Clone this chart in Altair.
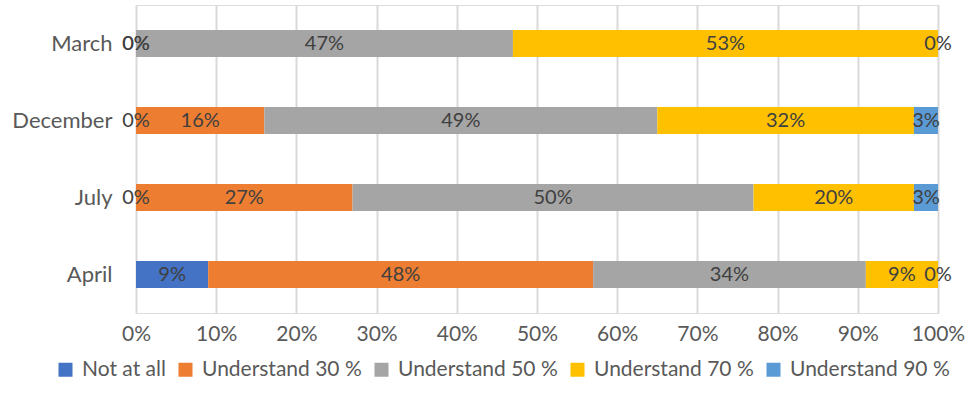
import altair as alt
import pandas as pd

months = ["March", "December", "July", "April"]
series = ["Not at all", "Understand 30 %", "Understand 50 %", "Understand 70 %", "Understand 90 %"]
colors = ["#4472C4", "#ED7D31", "#A5A5A5", "#FFC000", "#5B9BD5"]
not_at_all = [0, 0, 0, 9]
u30 = [0, 16, 27, 48]
u50 = [47, 49, 50, 34]
u70 = [53, 32, 20, 9]
u90 = [0, 3, 3, 0]

rows = []
for i, m in enumerate(months):
    start = 0.0
    for s, vals in zip(series, [not_at_all, u30, u50, u70, u90]):
        v = vals[i] / 100.0
        rows.append({"month": m, "series": s, "order": series.index(s),
                     "start": start, "end": start + v, "mid": start + v / 2,
                     "label": f"{vals[i]}%"})
        start += v
df = pd.DataFrame(rows)

FONT = "Lato"
base = alt.Chart(df)
y = alt.Y("month:N", sort=months, title=None,
          scale=alt.Scale(paddingInner=0.65, paddingOuter=0.325),
          axis=alt.Axis(domain=False, ticks=False, labelFontSize=22, labelColor="#595959",
                        labelFont=FONT, labelPadding=24, grid=False))

bars = base.mark_bar(stroke="white", strokeWidth=0).encode(
    x=alt.X("start:Q", title=None, scale=alt.Scale(domain=[0, 1], nice=False),
            axis=alt.Axis(format=".0%", values=[i / 10 for i in range(11)], domain=False,
                          ticks=False, grid=True, gridColor="#D9D9D9", gridWidth=2,
                          labelFontSize=21, labelColor="#595959", labelFont=FONT,
                          labelPadding=10, labelFlush=False)),
    x2="end:Q",
    y=y,
    color=alt.Color("series:N", sort=series,
                    scale=alt.Scale(domain=series, range=colors),
                    legend=alt.Legend(title=None, orient="none", direction="horizontal",
                                      legendX=-81, legendY=354, symbolType="square",
                                      symbolSize=196, symbolStrokeWidth=0,
                                      labelFontSize=21, labelColor="#595959", labelFont=FONT,
                                      columnPadding=9, labelOffset=6)),
    order="order:Q",
)

texts = base.mark_text(fontSize=20, color="#404040", font=FONT, baseline="middle").encode(
    x="mid:Q",
    y=alt.Y("month:N", sort=months),
    text="label:N",
)

chart = alt.layer(bars, texts).properties(
    width=802, height=308,
    autosize=alt.AutoSizeParams(type="none"),
    padding={"left": 136, "top": 5, "right": 30, "bottom": 99},
).configure_view(stroke=None).configure(background="white")

chart.save("out.html", embed_options={"renderer": "svg", "actions": False})
